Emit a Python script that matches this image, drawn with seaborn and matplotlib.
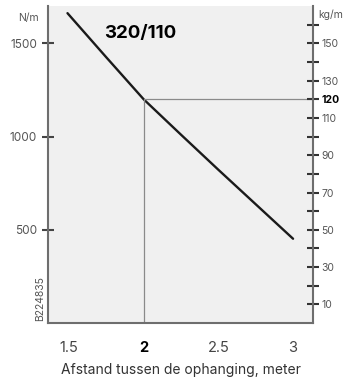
import matplotlib
matplotlib.use("Agg")
import matplotlib.pyplot as plt
import pandas as pd
import seaborn as sns

# Load curve for the 320/110 rail
span_m = [1.49, 1.75, 2.0, 2.25, 2.5, 2.75, 3.0]
load_nm = [1662, 1425, 1200, 1010, 822, 637, 452]

x_ticks = [1.5, 2, 2.5, 3]
x_labels = ["1.5", "2", "2.5", "3"]
left_ticks = [500, 1000, 1500]
right_ticks = [10, 20, 30, 40, 50, 60, 70, 80, 90, 100, 110, 120, 130, 140, 150, 160]
right_labels = ["10", "", "30", "", "50", "", "70", "", "90", "", "110", "120", "130", "", "150", ""]

ref_span = 2.0
ref_load = 1200

sns.set_style("white")
plt.rcParams["font.family"] = ["Inter", "DejaVu Sans"]

df = pd.DataFrame({"span": span_m, "load": load_nm})

fig = plt.figure(figsize=(3.56, 3.80), dpi=100)
ax = fig.add_axes([0.135, 0.15, 0.744, 0.834])
ax.set_facecolor("#f0f0f0")

sns.lineplot(data=df, x="span", y="load", ax=ax, color="#1a1a1a", linewidth=1.7)

# guide lines to the 2 m / 120 kg/m reading
ax.plot([ref_span, ref_span], [0, ref_load], color="#8a8a8a", linewidth=0.9)
ax.plot([ref_span, 3.133], [ref_load, ref_load], color="#8a8a8a", linewidth=0.9)

ax.set_xlim(1.36, 3.133)
ax.set_ylim(0, 1700)
ax.set_xlabel("Afstand tussen de ophanging, meter", fontsize=10, color="#333333", labelpad=6)
ax.set_ylabel("")

spine_col = "#6e6e6e"
for side in ["left", "bottom"]:
    ax.spines[side].set_color(spine_col)
    ax.spines[side].set_linewidth(1.5)
ax.spines["top"].set_visible(False)
ax.spines["right"].set_visible(False)

ax.set_xticks(x_ticks)
ax.set_xticklabels(x_labels)
ax.set_yticks(left_ticks)
ax.tick_params(axis="x", direction="inout", length=8, width=1.5, color="#333333",
               labelsize=10.5, labelcolor="#444444", pad=9)
ax.tick_params(axis="y", direction="inout", length=8, width=1.5, color="#444444",
               labelsize=8.5, labelcolor="#555555", pad=4)
for lab in ax.get_xticklabels():
    if lab.get_text() == "2":
        lab.set_fontweight("bold")
        lab.set_color("black")

ax2 = ax.twinx()
ax2.set_ylim(0, 170)
ax2.set_yticks(right_ticks)
ax2.set_yticklabels(right_labels)
ax2.tick_params(axis="y", direction="inout", length=8, width=1.5, color="#333333",
                labelsize=7.5, labelcolor="#555555", pad=2)
for side in ["left", "bottom", "top"]:
    ax2.spines[side].set_visible(False)
ax2.spines["right"].set_color(spine_col)
ax2.spines["right"].set_linewidth(1.5)
for lab in ax2.get_yticklabels():
    if lab.get_text() == "120":
        lab.set_fontweight("bold")
        lab.set_color("black")

fig.text(0.079, 0.952, "N/m", fontsize=7.5, color="#555555", ha="center", va="center")
fig.text(0.93, 0.96, "kg/m", fontsize=7.5, color="#555555", ha="center", va="center")
fig.text(0.395, 0.912, "320/110", fontsize=13.5, fontweight="bold", color="black",
         ha="center", va="center")
fig.text(0.112, 0.215, "B224835", fontsize=7.5, color="#555555", rotation=90,
         ha="center", va="center")

fig.savefig("out.png", dpi=100)
plt.close(fig)
